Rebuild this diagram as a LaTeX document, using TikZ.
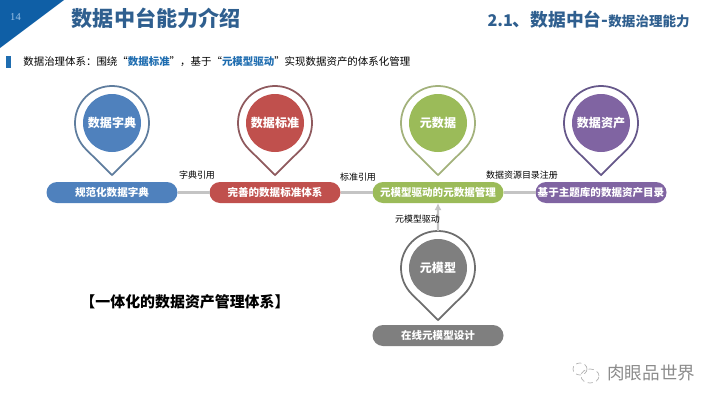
\documentclass[tikz,border=0pt]{standalone}
\usepackage{xcolor}
\usepackage{fontspec}
\setmainfont{Noto Sans CJK SC}
\newfontfamily\numfont{Liberation Serif}
\usetikzlibrary{arrows.meta,positioning,calc}
\definecolor{TitleBlue}{HTML}{2F5F8F}
\definecolor{CornerBlue}{HTML}{0F5FA6}
\definecolor{PageBlue}{HTML}{9CC3E6}
\definecolor{MarkBlue}{HTML}{1F6DB0}
\definecolor{PinBlue}{HTML}{4F81BD}
\definecolor{PinRed}{HTML}{C0504D}
\definecolor{PinGreen}{HTML}{9BBB59}
\definecolor{PinPurple}{HTML}{8064A2}
\definecolor{PinGray}{HTML}{7F7F7F}
\definecolor{RimBlue}{HTML}{5F7D9E}
\definecolor{RimRed}{HTML}{8F5A5E}
\definecolor{RimGreen}{HTML}{A3B27C}
\definecolor{RimPurple}{HTML}{66588A}
\definecolor{RimGray}{HTML}{6E6E6E}
\definecolor{LinkGray}{HTML}{C4C4C4}
\newcommand{\fs}[1]{\fontsize{#1}{#1}\selectfont}
\newcommand{\pinrim}[2]{\draw[line width=1pt, draw=#2] ($(#1)+(-45:0.74)$) arc[start angle=-45, end angle=225, radius=0.74] -- ($(#1)+(0,-1.04)$) -- cycle;}

\begin{document}
\begin{tikzpicture}[
  node distance=0.6cm and 2.1cm,
  pin/.style={circle, inner sep=0pt, outer sep=0pt, minimum size=1.16cm, text=white, font=\fs{6.85}\bfseries},
  pill/.style={rounded corners=0.21cm, inner sep=0pt, outer sep=0pt, minimum width=2.62cm, minimum height=0.42cm, text=white, font=\fs{6}\bfseries},
  linklabel/.style={inner sep=0pt, font=\fs{5.1}},
  link/.style={draw=LinkGray, line width=1.4pt}
]
  \useasboundingbox (0,0) rectangle (14.4,8.1);
  % header
  \fill[CornerBlue] (0,8.1) -- (1.28,8.1) -- (0,7.14) -- cycle;
  \node[text=PageBlue, inner sep=0pt, font=\numfont\fs{6}] (page) at (0.31,7.76) {14};
  \node[anchor=west, inner sep=0pt, text=TitleBlue, font=\fs{12}\bfseries] (title) at (1.43,7.74) {数据中台能力介绍};
  \node[anchor=east, inner sep=0pt, text=TitleBlue, font=\fs{10.1}\bfseries] (section) at (13.8,7.7) {{\fs{9.2}2.1}、数据中台-{\fs{7.7}数据治理能力}};
  \fill[MarkBlue] (0.12,6.74) rectangle (0.22,6.98);
  \node[anchor=west, inner sep=0pt, font=\fs{5.95}] (intro) at (0.46,6.87) {数据治理体系：围绕“{\bfseries\color{MarkBlue}数据标准}”，基于“{\bfseries\color{MarkBlue}元模型驱动}”实现数据资产的体系化管理};

  % pins
  \node[pin, fill=PinBlue] (dict) at (2.24,5.64) {数据字典};
  \node[pin, fill=PinRed, right=of dict] (std) {数据标准};
  \node[pin, fill=PinGreen, right=of std] (meta) {元数据};
  \node[pin, fill=PinPurple, right=of meta] (asset) {数据资产};
  \node[pin, fill=PinGray] (model) at (8.76,2.74) {元模型};
  \pinrim{dict}{RimBlue}
  \pinrim{std}{RimRed}
  \pinrim{meta}{RimGreen}
  \pinrim{asset}{RimPurple}
  \pinrim{model}{RimGray}

  % pills
  \node[pill, fill=PinBlue, below=of dict] (dictpill) {规范化数据字典};
  \node[pill, fill=PinRed, below=of std] (stdpill) {完善的数据标准体系};
  \node[pill, fill=PinGreen, below=of meta] (metapill) {元模型驱动的元数据管理};
  \node[pill, fill=PinPurple, below=of asset] (assetpill) {基于主题库的数据资产目录};
  \node[pill, fill=PinGray, below=0.56cm of model] (modelpill) {在线元模型设计};

  % links
  \draw[link] (dictpill) -- (stdpill);
  \draw[link] (stdpill) -- (metapill);
  \draw[link] (metapill) -- (assetpill);
  \coordinate (modeltop) at ($(model)+(0,0.74)$);
  \draw[link, -{Latex[length=1.4mm, width=1.4mm]}] (modeltop) -- (metapill.south);

  % labels
  \node[linklabel] (dictref) at (3.94,4.6) {字典引用};
  \node[linklabel] (stdref) at (7.16,4.56) {标准引用};
  \node[linklabel] (assetreg) at (10.44,4.6) {数据资源目录注册};
  \node[linklabel] (modelref) at (8.35,3.72) {元模型驱动};
  \node[inner sep=0pt, font=\fs{8.5}\bfseries] (system) at (3.7,2.06) {【一体化的数据资产管理体系】};

  % watermark
  \draw[gray!60, densely dashed, line width=0.4pt] (11.6,0.72) ellipse (0.14 and 0.12);
  \draw[gray!60, densely dashed, line width=0.4pt] (11.8,0.58) ellipse (0.18 and 0.14);
  \node[anchor=west, inner sep=0pt, text=gray!90, font=\fs{10}] (mark) at (12.14,0.64) {肉眼品世界};
\end{tikzpicture}
\end{document}
